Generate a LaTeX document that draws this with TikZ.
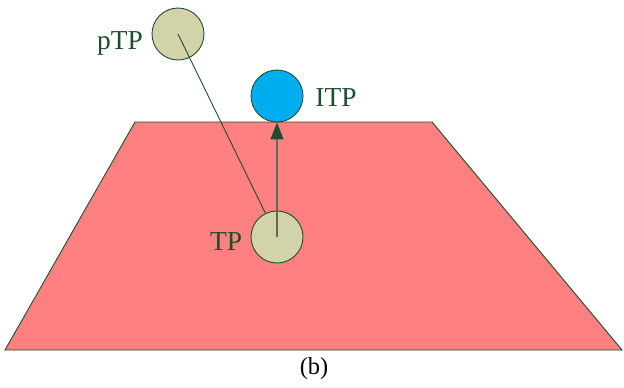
\documentclass[tikz,border=0pt]{standalone}
\usepackage{fontspec}
\setmainfont{Liberation Serif}
\usetikzlibrary{arrows.meta}
\definecolor{planepink}{RGB}{255,128,128}
\definecolor{edgegreen}{RGB}{28,78,44}
\definecolor{tpkhaki}{RGB}{211,211,170}
\definecolor{itpblue}{RGB}{0,174,239}
\definecolor{stemgray}{RGB}{92,108,94}

\begin{document}
\begin{tikzpicture}[x=1bp, y=-1bp,
  every node/.style={font=\fontsize{27.5}{31}\selectfont, text=edgegreen},
  ball/.style={circle, draw=edgegreen, line width=0.9bp, fill=tpkhaki, minimum size=52bp, inner sep=0pt}]
  \useasboundingbox (0,0) rectangle (624,387);
  \draw[edgegreen, line width=0.9bp, fill=planepink] (135,122) -- (432,122) -- (622,350) -- (5,350) -- cycle;

  \node[ball] (pTP) at (178,34) {};
  \node[ball, fill=itpblue] (ITP) at (277,96) {};
  \node[ball] (TP) at (277,237) {};
  \node (pTPlabel) at (120,43) {pTP};
  \node (ITPlabel) at (336,98) {ITP};
  \node (TPlabel) at (226,242) {TP};
  \node[font=\fontsize{24.5}{28}\selectfont, text=black] (caption) at (314,369) {(b)};

  \draw[edgegreen, line width=0.9bp] (pTP.center) -- (TP);
  \draw[stemgray, line width=1.4bp, -{Triangle[length=17bp, width=13bp, color=edgegreen, fill=edgegreen]}] (TP.center) -- (ITP.south);
\end{tikzpicture}
\end{document}
